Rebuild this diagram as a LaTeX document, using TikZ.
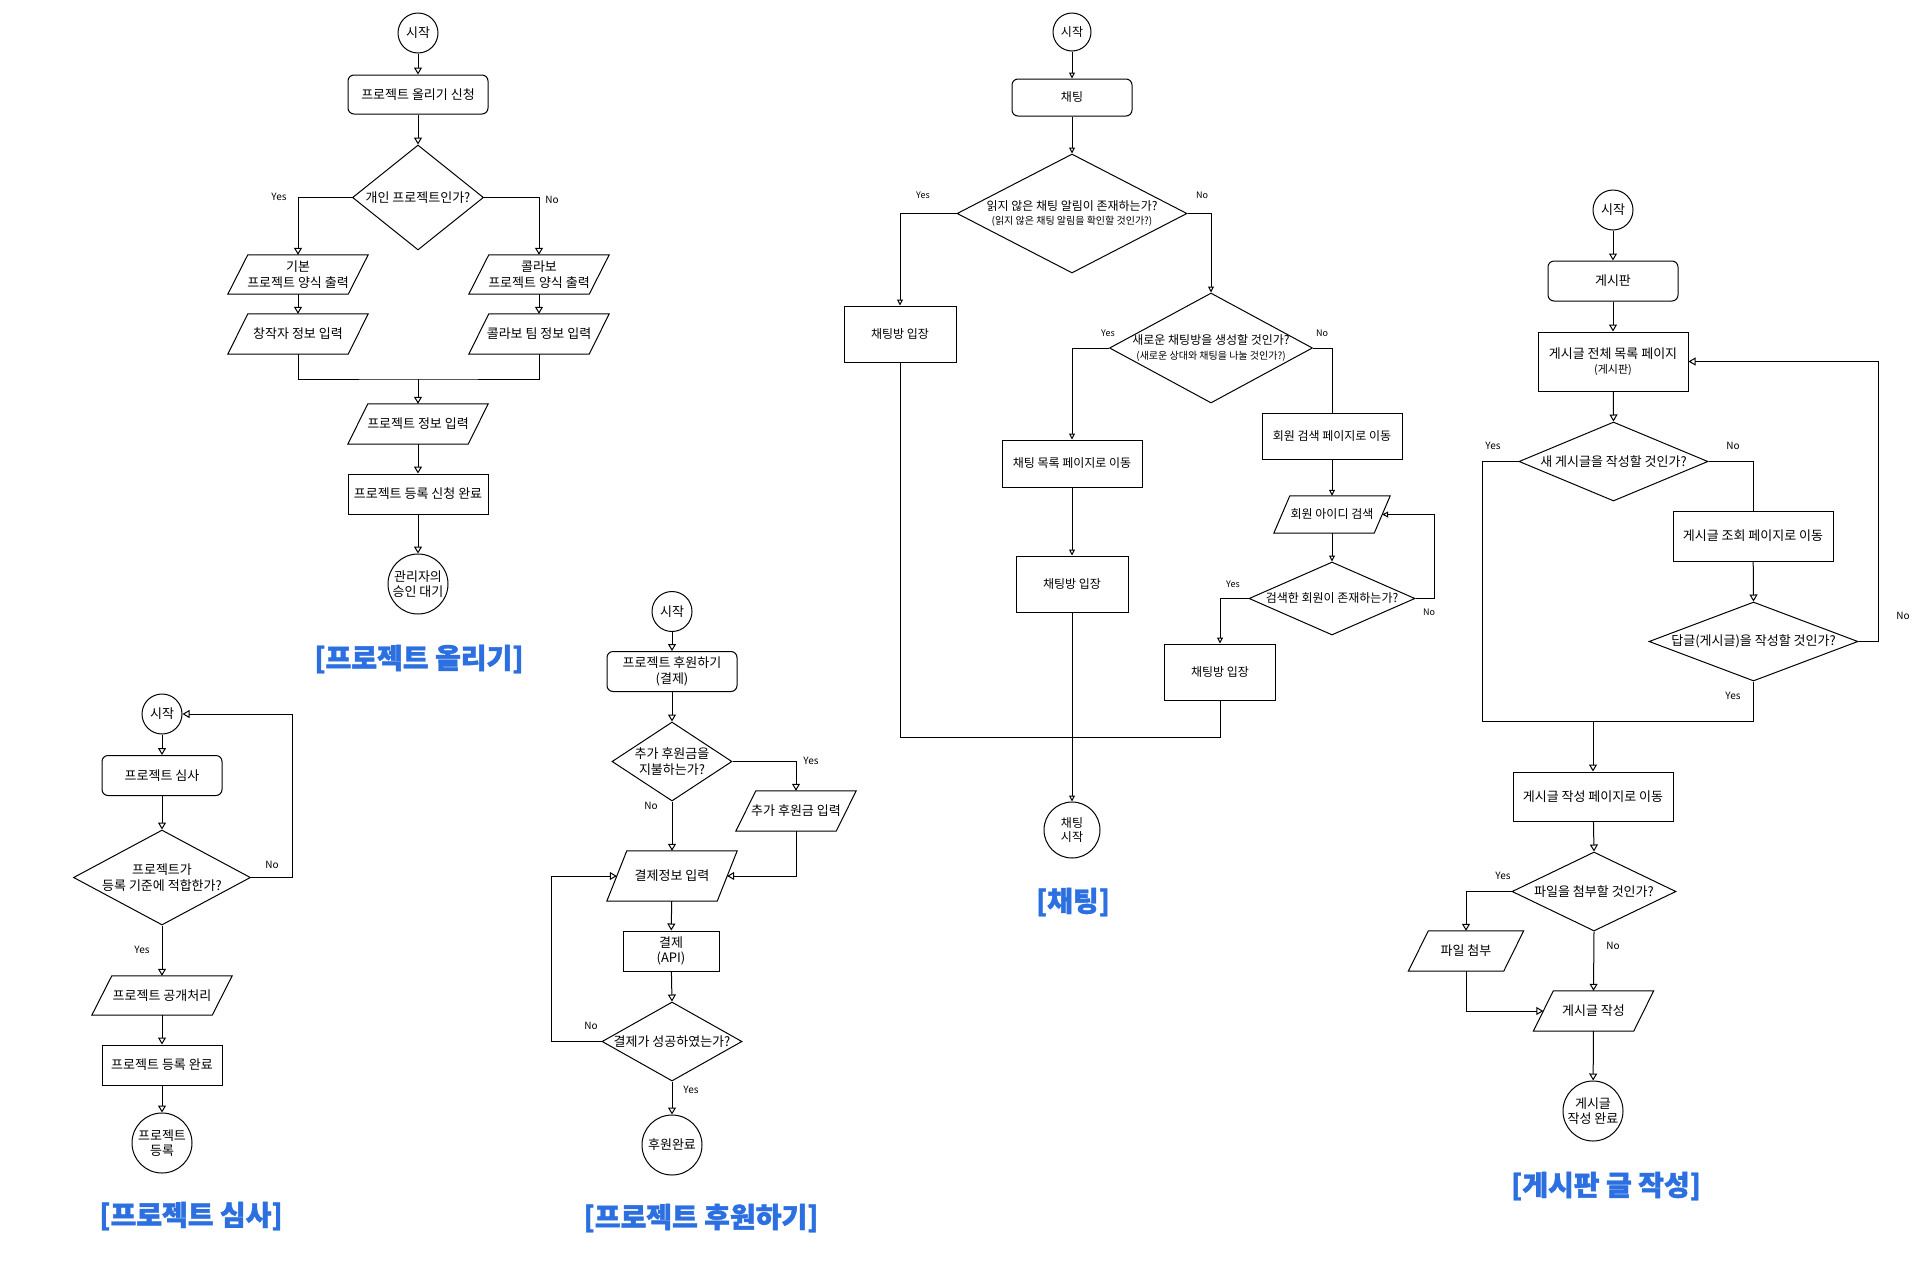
\documentclass[tikz,border=0pt]{standalone}
\usepackage{fontspec}
\setmainfont{Noto Sans CJK KR}[BoldFeatures={FakeBold=1.5}]
\usetikzlibrary{shapes.geometric,arrows.meta}
\definecolor{ttl}{RGB}{43,111,224}
\newcommand{\drawpara}[2]{\draw[ln] ([xshift=-#2pt]#1.south west) -- ([xshift=-#2pt]#1.south east) -- ([xshift=#2pt]#1.north east) -- ([xshift=#2pt]#1.north west) -- cycle;}
\tikzset{
  ln/.style={draw=black, line width=1pt},
  arr/.style={ln, -{Triangle[open,length=7pt,width=8pt]}},
  sarr/.style={ln, -{Triangle[open,length=6pt,width=6pt]}},
  txt/.style={font=\fontsize{13}{15.5}\selectfont, align=center, text=black},
  stxt/.style={font=\fontsize{12}{14.5}\selectfont, align=center, text=black},
  term/.style={circle, draw, line width=1pt, minimum size=#1, inner sep=0},
  procbox/.style 2 args={rectangle, draw, line width=1pt, minimum width=#1, minimum height=#2, inner sep=0},
  rbox/.style 2 args={procbox={#1}{#2}, rounded corners=6pt},
  iobox/.style 2 args={rectangle, minimum width=#1, minimum height=#2, inner sep=0},
  dia/.style 2 args={diamond, draw, line width=1pt, minimum width=#1, minimum height=#2, inner sep=0},
  lbl/.style={font=\fontsize{10}{12}\selectfont, text=black},
  ttlst/.style={font=\fontsize{28}{32}\selectfont\bfseries, text=ttl},
}
\begin{document}
\begin{tikzpicture}[x=1pt,y=-1pt]
\fill[white] (0,0) rectangle (1920,1280);
\useasboundingbox (0,0) rectangle (1920,1280);

% ===== Chart 1: 프로젝트 올리기 =====
\node[term=40, txt] (s1) at (418,33) {시작};
\node[rbox={140}{39}, txt] (p1a) at (418,94.5) {프로젝트 올리기 신청};
\node[dia={131}{105}] (d1) at (418,197.5) {};
\node[txt] (d1t) at (d1.center) {개인 프로젝트인가?};
\node[iobox={120}{39}, txt] (io1a) at (298,274.5) {기본\\프로젝트 양식 출력};
\node[iobox={120}{39}, txt] (io1b) at (539,274.5) {콜라보\\프로젝트 양식 출력};
\node[iobox={120}{40}, txt] (io1c) at (298,334) {창작자 정보 입력};
\node[iobox={120}{40}, txt] (io1d) at (539,334) {콜라보 팀 정보 입력};
\node[iobox={120}{40}, txt] (io1e) at (418,424) {프로젝트 정보 입력};
\node[procbox={140}{40}, txt] (p1b) at (418,494) {프로젝트 등록 신청 완료};
\node[term=60, txt] (e1) at (418,584) {관리자의\\승인 대기};
\node[ttlst] (t1) at (419,659) {[프로젝트 올리기]};
\drawpara{io1a}{10}
\drawpara{io1b}{10}
\drawpara{io1c}{10}
\drawpara{io1d}{10}
\drawpara{io1e}{10}
\coordinate (m1) at (418,379);
\draw[arr] (s1) -- (p1a);
\draw[arr] (p1a) -- (d1.north);
\draw[arr] (d1.west) -| (io1a.north);
\draw[arr] (d1.east) -| (io1b.north);
\draw[arr] (io1a) -- (io1c);
\draw[arr] (io1b) -- (io1d);
\draw[ln] (io1c.south) |- (m1) -| (io1d.south);
\draw[arr] (m1) -- (io1e.north);
\draw[arr] (io1e) -- (p1b);
\draw[arr] (p1b) -- (e1);
\node[lbl] (y1) at (279,197) {Yes};
\node[lbl] (n1) at (552,200) {No};

% ===== Chart 2: 프로젝트 심사 =====
\node[term=40, txt] (s2) at (162,714) {시작};
\node[rbox={120}{40}, txt] (p2a) at (162,775.5) {프로젝트 심사};
\node[dia={177}{95}] (d2) at (162,877.5) {};
\node[txt] (d2t) at (d2.center) {프로젝트가\\등록 기준에 적합한가?};
\node[iobox={120}{39}, txt] (io2) at (162,995.5) {프로젝트 공개처리};
\node[procbox={120}{40}, txt] (p2b) at (162,1065) {프로젝트 등록 완료};
\node[term=60, txt] (e2) at (162,1143) {프로젝트\\등록};
\node[ttlst] (t2) at (191,1216) {[프로젝트 심사]};
\drawpara{io2}{10}
\draw[arr] (s2) -- (p2a);
\draw[arr] (p2a) -- (d2.north);
\draw[arr] (d2.east) -- ++(41,0) |- (s2.east);
\draw[arr] (d2.south) -- (io2.north);
\draw[arr] (io2) -- (p2b);
\draw[arr] (p2b) -- (e2);
\node[lbl] (n2) at (272,865) {No};
\node[lbl] (y2) at (142,950) {Yes};

% ===== Chart 3: 프로젝트 후원하기 =====
\node[term=40, txt] (s3) at (672,611.5) {시작};
\node[rbox={130}{40}, txt] (p3a) at (672,671.5) {프로젝트 후원하기\\(결제)};
\node[dia={120}{79}] (d3a) at (672,761.5) {};
\node[txt] (d3at) at (d3a.center) {추가 후원금을\\지불하는가?};
\node[iobox={100}{40}, txt] (io3a) at (796,811) {추가 후원금 입력};
\node[iobox={110}{50}, txt] (io3b) at (672,876) {결제정보 입력};
\node[procbox={96}{40}, txt] (p3b) at (671,951) {결제\\(API)};
\node[dia={140}{79}] (d3b) at (672,1041.5) {};
\node[txt] (d3bt) at (d3b.center) {결제가 성공하였는가?};
\node[term=60, txt] (e3) at (672,1145) {후원완료};
\node[ttlst] (t3) at (701,1218) {[프로젝트 후원하기]};
\drawpara{io3a}{10}
\drawpara{io3b}{10}
\draw[arr] (s3) -- (p3a);
\draw[arr] (p3a) -- (d3a.north);
\draw[arr] (d3a.east) -| (io3a.north);
\draw[arr] (d3a.south) -- (io3b.north);
\draw[arr] (io3a.south) |- (io3b.east);
\draw[arr] (io3b) -- (p3b);
\draw[arr] (p3b) -- (d3b.north);
\draw[arr] (d3b.west) -- ++(-50,0) |- (io3b.west);
\draw[arr] (d3b.south) -- (e3);
\node[lbl] (y3a) at (811,761) {Yes};
\node[lbl] (n3a) at (651,806) {No};
\node[lbl] (n3b) at (591,1026) {No};
\node[lbl] (y3b) at (691,1090) {Yes};

% ===== Chart 4: 채팅 =====
\node[term=38, stxt] (s4) at (1072,32) {시작};
\node[rbox={120}{37}, stxt] (p4a) at (1072,97.5) {채팅};
\node[dia={230}{119}] (d4a) at (1072,213.5) {};
\node[stxt] (d4at) at (d4a.center) {읽지 않은 채팅 알림이 존재하는가?\\{\fontsize{10}{12}\selectfont (읽지 않은 채팅 알림을 확인할 것인가?)}};
\node[procbox={112}{56}, stxt] (p4b) at (900,334) {채팅방 입장};
\node[dia={203}{110}] (d4b) at (1211,348) {};
\node[stxt] (d4bt) at (d4b.center) {새로운 채팅방을 생성할 것인가?\\{\fontsize{10}{12}\selectfont (새로운 상대와 채팅을 나눌 것인가?)}};
\node[procbox={140}{47}, stxt] (p4c) at (1072,463.5) {채팅 목록 페이지로 이동};
\node[procbox={112}{56}, stxt] (p4d) at (1072,584) {채팅방 입장};
\node[procbox={140}{46}, stxt] (p4e) at (1332,436) {회원 검색 페이지로 이동};
\node[iobox={100}{37}, stxt] (io4) at (1332,514.5) {회원 아이디 검색};
\node[dia={166}{73}] (d4c) at (1332,598.5) {};
\node[stxt] (d4ct) at (d4c.center) {검색한 회원이 존재하는가?};
\node[procbox={111}{56}, stxt] (p4f) at (1220,672) {채팅방 입장};
\node[term=56, stxt] (e4) at (1072,830) {채팅\\시작};
\node[ttlst] (t4) at (1073,902) {[채팅]};
\drawpara{io4}{8}
\coordinate (m4) at (1072,737);
\draw[sarr] (s4) -- (p4a);
\draw[sarr] (p4a) -- (d4a.north);
\draw[sarr] (d4a.west) -| (p4b.north);
\draw[sarr] (d4a.east) -| (d4b.north);
\draw[sarr] (d4b.west) -| (p4c.north);
\draw[ln] (d4b.east) -| (p4e.north);
\draw[sarr] (p4c) -- (p4d);
\draw[sarr] (p4e) -- (io4);
\draw[sarr] (io4) -- (d4c.north);
\draw[sarr] (d4c.east) -- ++(19,0) |- (io4.east);
\draw[sarr] (d4c.west) -| (p4f.north);
\draw[ln] (p4b.south) |- (p4f.south |- m4) -- (p4f.south);
\draw[sarr] (p4d.south) -- (e4.north);
\node[lbl, font=\fontsize{9}{11}\selectfont] (y4a) at (923,195) {Yes};
\node[lbl, font=\fontsize{9}{11}\selectfont] (n4a) at (1202,195) {No};
\node[lbl, font=\fontsize{9}{11}\selectfont] (y4b) at (1108,333) {Yes};
\node[lbl, font=\fontsize{9}{11}\selectfont] (n4b) at (1322,333) {No};
\node[lbl, font=\fontsize{9}{11}\selectfont] (y4c) at (1233,584) {Yes};
\node[lbl, font=\fontsize{9}{11}\selectfont] (n4c) at (1429,612) {No};

% ===== Chart 5: 게시판 글 작성 =====
\node[term=40, txt] (s5) at (1613,210) {시작};
\node[rbox={130}{40}, txt] (p5a) at (1613,281) {게시판};
\node[procbox={150}{59}, txt] (p5b) at (1613,361.5) {게시글 전체 목록 페이지\\{\fontsize{11}{13}\selectfont (게시판)}};
\node[dia={189}{79}] (d5a) at (1613.5,461.5) {};
\node[txt] (d5at) at (d5a.center) {새 게시글을 작성할 것인가?};
\node[procbox={160}{50}, txt] (p5c) at (1753,536) {게시글 조회 페이지로 이동};
\node[dia={209}{79}] (d5b) at (1753.5,641.5) {};
\node[txt] (d5bt) at (d5b.center) {답글(게시글)을 작성할 것인가?};
\node[procbox={160}{49}, txt] (p5d) at (1593,796.5) {게시글 작성 페이지로 이동};
\node[dia={164}{79}] (d5c) at (1594,891.5) {};
\node[txt] (d5ct) at (d5c.center) {파일을 첨부할 것인가?};
\node[iobox={95}{40}, txt] (io5a) at (1466,951) {파일 첨부};
\node[iobox={100}{40}, txt] (io5b) at (1593.5,1011) {게시글 작성};
\node[term=60, txt] (e5) at (1593,1111) {게시글\\작성 완료};
\node[ttlst] (t5) at (1606,1186) {[게시판 글 작성]};
\drawpara{io5a}{10}
\drawpara{io5b}{10}
\coordinate (m5) at (1593,721);
\draw[arr] (s5) -- (p5a);
\draw[arr] (p5a) -- (p5b);
\draw[arr] (p5b) -- (d5a.north);
\draw[ln] (d5a.west) -- ++(-36,0) |- (d5b.south |- m5) -- (d5b.south);
\draw[ln] (d5a.east) -| (p5c.north);
\draw[arr] (p5c) -- (d5b.north);
\draw[arr] (d5b.east) -- ++(20,0) |- (p5b.east);
\draw[arr] (m5) -- (p5d.north);
\draw[arr] (p5d) -- (d5c.north);
\draw[arr] (d5c.west) -| (io5a.north);
\draw[arr] (d5c.south) -- (io5b.north);
\draw[arr] (io5a.south) |- (io5b.west);
\draw[arr] (io5b) -- (e5);
\node[lbl] (y5a) at (1493,446) {Yes};
\node[lbl] (n5a) at (1733,446) {No};
\node[lbl] (n5b) at (1903,616) {No};
\node[lbl] (y5b) at (1733,696) {Yes};
\node[lbl] (y5c) at (1503,876) {Yes};
\node[lbl] (n5c) at (1613,946) {No};
\end{tikzpicture}
\end{document}
